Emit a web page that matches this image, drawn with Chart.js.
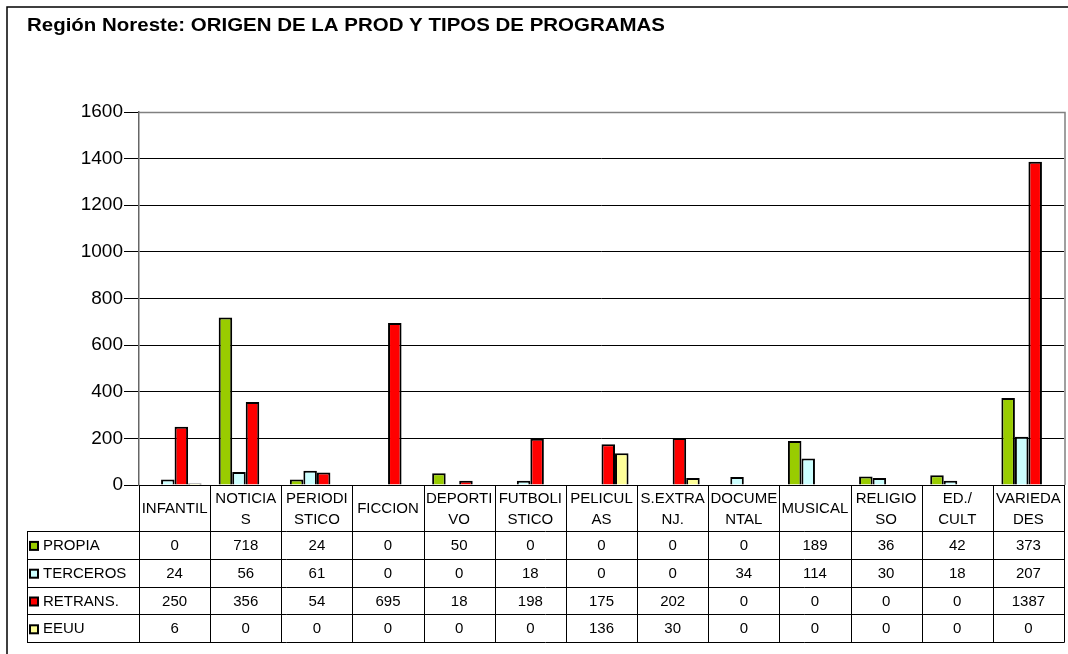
<!DOCTYPE html>
<html>
<head>
<meta charset="utf-8">
<script src="https://cdn.jsdelivr.net/npm/chart.js@4.4.1/dist/chart.umd.min.js"></script>
<style>
  html, body { margin: 0; padding: 0; background: #fff; }
  #myChart { display: block; }
</style>
</head>
<body>
<canvas id="myChart" width="1068" height="654"></canvas>
<script>
const chartTitle = "Región Noreste: ORIGEN DE LA PROD Y TIPOS DE PROGRAMAS";

// category labels as printed in the table header (split on two lines)
const categories = [
    ["INFANTIL"], ["NOTICIA", "S"], ["PERIODI", "STICO"], ["FICCION"],
    ["DEPORTI", "VO"], ["FUTBOLI", "STICO"], ["PELICUL", "AS"], ["S.EXTRA", "NJ."],
    ["DOCUME", "NTAL"], ["MUSICAL"], ["RELIGIO", "SO"], ["ED./", "CULT"], ["VARIEDA", "DES"]
];

const seriesNames = ["PROPIA", "TERCEROS", "RETRANS.", "EEUU"];
const seriesColors = ["#99CC00", "#CCFFFF", "#FF0000", "#FFFF99"];

const propia   = [0, 718, 24, 0, 50, 0, 0, 0, 0, 189, 36, 42, 373];
const terceros = [24, 56, 61, 0, 0, 18, 0, 0, 34, 114, 30, 18, 207];
const retrans  = [250, 356, 54, 695, 18, 198, 175, 202, 0, 0, 0, 0, 1387];
const eeuu     = [6, 0, 0, 0, 0, 0, 136, 30, 0, 0, 0, 0, 0];

const yTicks = [0, 200, 400, 600, 800, 1000, 1200, 1400, 1600];

const seriesValues = [propia, terceros, retrans, eeuu];
const FONT = "'Liberation Sans', Arial, sans-serif";

// title, outer frame and data table drawn around the chart
const tablePlugin = {
    id: 'dataTable',
    afterDraw(chart) {
        const ctx = chart.ctx;
        const area = chart.chartArea;
        const x = chart.scales.x;
        const left = area.left, right = area.right;
        const legendLeft = 27;
        const headerTop = area.bottom;
        const headerBottom = 531;
        const rowH = 27.8;
        const tableBottom = headerBottom + rowH * seriesNames.length;
        const step = (right - left) / categories.length;

        ctx.save();

        // outer frame (cut off on the right/bottom)
        ctx.strokeStyle = '#000';
        ctx.lineWidth = 1.5;
        ctx.strokeRect(7, 7, 1100, 700);

        // title, condensed to fit its width
        ctx.fillStyle = '#000';
        ctx.font = 'bold 18px ' + FONT;
        ctx.textBaseline = 'alphabetic';
        ctx.textAlign = 'left';
        const w = ctx.measureText(chartTitle).width;
        ctx.translate(27, 31);
        ctx.scale(638 / w, 1);
        ctx.fillText(chartTitle, 0, 0);
        ctx.setTransform(1, 0, 0, 1, 0, 0);

        // plot area right border and top line
        ctx.strokeStyle = '#808080';
        ctx.lineWidth = 1.5;
        ctx.beginPath();
        ctx.moveTo(left, area.top + 0.5);
        ctx.lineTo(right + 1, area.top + 0.5);
        ctx.lineTo(right + 1, headerTop);
        ctx.stroke();

        // table lines
        ctx.strokeStyle = '#000';
        ctx.lineWidth = 1;
        ctx.beginPath();
        ctx.moveTo(left, headerTop + 0.5);
        ctx.lineTo(right, headerTop + 0.5);
        for (let r = 0; r <= seriesNames.length; r++) {
            const yy = Math.round(headerBottom + r * rowH) + 0.5;
            ctx.moveTo(legendLeft, yy);
            ctx.lineTo(right, yy);
        }
        ctx.moveTo(legendLeft + 0.5, headerBottom);
        ctx.lineTo(legendLeft + 0.5, tableBottom + 0.5);
        for (let c = 0; c <= categories.length; c++) {
            const xx = Math.round(left + c * step) + 0.5;
            ctx.moveTo(xx, headerTop);
            ctx.lineTo(xx, tableBottom + 0.5);
        }
        ctx.stroke();

        // header labels
        ctx.font = '15px ' + FONT;
        ctx.textAlign = 'center';
        ctx.textBaseline = 'middle';
        const headerMid = (headerTop + headerBottom) / 2 + 1;
        categories.forEach((lines, i) => {
            const cx = x.getPixelForValue(i);
            if (lines.length === 1) {
                ctx.fillText(lines[0], cx, headerMid);
            } else {
                ctx.fillText(lines[0], cx, headerMid - 10);
                ctx.fillText(lines[1], cx, headerMid + 11);
            }
        });

        // rows: legend keys and values
        seriesNames.forEach((name, r) => {
            const cy = headerBottom + r * rowH + rowH / 2 + 1;
            ctx.fillStyle = seriesColors[r];
            ctx.fillRect(30, cy - 4, 8, 8);
            ctx.strokeStyle = '#000';
            ctx.lineWidth = 2;
            ctx.strokeRect(30, cy - 4, 8, 8);
            ctx.fillStyle = '#000';
            ctx.textAlign = 'left';
            ctx.fillText(name, 43, cy);
            ctx.textAlign = 'center';
            seriesValues[r].forEach((v, i) => {
                ctx.fillText(String(v), x.getPixelForValue(i), cy);
            });
        });

        ctx.restore();
    }
};

const ctx = document.getElementById('myChart').getContext('2d');
const myChart = new Chart(ctx, {
    type: 'bar',
    data: {
        labels: categories.map((c) => c.join('')),
        datasets: seriesNames.map((name, i) => ({
            label: name,
            data: seriesValues[i],
            backgroundColor: seriesColors[i],
            borderColor: '#000',
            borderWidth: 2,
            borderSkipped: 'bottom',
            categoryPercentage: 0.76,
            barPercentage: 1
        }))
    },
    options: {
        responsive: false,
        animation: false,
        layout: {
            padding: { left: 0, right: 4, top: 112, bottom: 169 }
        },
        plugins: {
            legend: { display: false },
            title: { display: false },
            tooltip: { enabled: false }
        },
        scales: {
            x: {
                display: false
            },
            y: {
                min: 0,
                max: 1600,
                afterFit: (scale) => { scale.width = 139; },
                afterBuildTicks: (scale) => { scale.ticks = yTicks.map((v) => ({ value: v })); },
                border: { display: true, color: '#666', width: 1.5 },
                grid: {
                    color: '#000',
                    lineWidth: 1,
                    drawTicks: true,
                    tickLength: 15
                },
                ticks: {
                    color: '#000',
                    padding: 1,
                    font: { family: FONT, size: 19 },
                    callback: (v) => String(v)
                }
            }
        }
    },
    plugins: [tablePlugin]
});
</script>
</body>
</html>
